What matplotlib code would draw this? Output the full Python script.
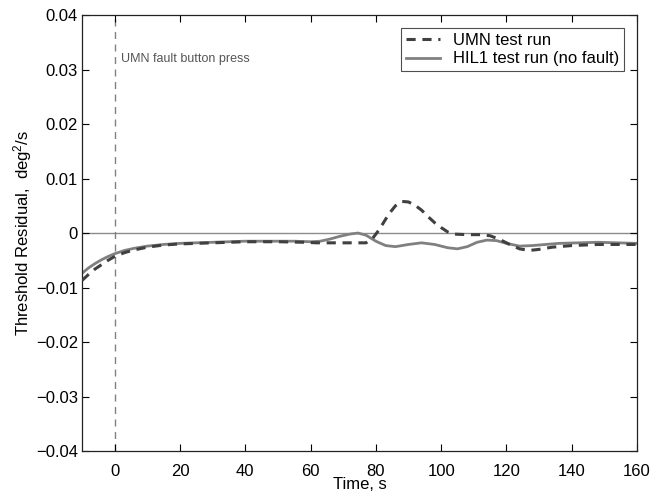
import numpy as np
import matplotlib
matplotlib.use("Agg")
import matplotlib.pyplot as plt
from matplotlib.ticker import FuncFormatter

plt.rcParams['font.family'] = ['Liberation Sans', 'DejaVu Sans']
plt.rcParams['mathtext.default'] = 'regular'

# HIL1 test run (no fault)
t_hil = [-10, -8, -6, -4, -2, 0, 3, 6, 10, 15, 20, 25, 30, 40, 50, 55, 60, 63,
         66, 69, 72, 74.5, 77, 80, 83, 86, 90, 94, 98, 102, 105, 108, 111, 114,
         117, 120, 124, 128, 132, 136, 142, 148, 154, 160]
r_hil = [-0.0074, -0.0064, -0.0056, -0.0049, -0.0043, -0.0038, -0.0032,
         -0.0028, -0.0024, -0.0021, -0.0019, -0.0018, -0.0017, -0.0015,
         -0.0015, -0.0015, -0.0016, -0.0015, -0.0011, -0.0006, -0.0002,
         0.0000, -0.0004, -0.0015, -0.0023, -0.0025, -0.0021, -0.0018,
         -0.0021, -0.0027, -0.0029, -0.0025, -0.0017, -0.0013, -0.0014,
         -0.0019, -0.0024, -0.0023, -0.0021, -0.0019, -0.0018, -0.0017,
         -0.0018, -0.0019]

# UMN test run
t_umn = [-10, -8, -6, -4, -2, 0, 3, 6, 10, 15, 20, 30, 40, 50, 58, 62, 70, 77,
         79, 81, 84, 86, 88, 90, 92, 94, 96, 98, 100, 102, 104, 108, 112, 115,
         118, 121, 124, 127, 130, 134, 140, 148, 160]
r_umn = [-0.0087, -0.0076, -0.0066, -0.0058, -0.0050, -0.0043, -0.0036,
         -0.0031, -0.0026, -0.0022, -0.0020, -0.0018, -0.0016, -0.0016,
         -0.0017, -0.0018, -0.0018, -0.0018, -0.0010, 0.0006, 0.0035, 0.0050,
         0.0058, 0.0057, 0.0051, 0.0042, 0.0030, 0.0019, 0.0010, 0.0002,
         -0.0002, -0.0003, -0.0003, -0.0005, -0.0012, -0.0021, -0.0029,
         -0.0032, -0.0030, -0.0026, -0.0023, -0.0021, -0.0021]

fault_time = 0
x_ticks = [0, 20, 40, 60, 80, 100, 120, 140, 160]
y_ticks = [-0.04, -0.03, -0.02, -0.01, 0, 0.01, 0.02, 0.03, 0.04]

fig = plt.figure(figsize=(6.69, 4.96), dpi=100)
ax = fig.add_axes([0.1226, 0.0907, 0.8296, 0.879])

ax.axhline(0, color='#8c8c8c', lw=1.0, zorder=1)
ax.axvline(fault_time, color='#808080', lw=1.0, dashes=(5, 4), zorder=1)
ax.text(fault_time + 1.8, 0.032, "UMN fault button press", fontsize=9,
        color='#555555', va='center')

ax.plot(t_umn, r_umn, color='#404040', lw=2.2, dashes=(3, 2.2),
        label="UMN test run", zorder=3)
ax.plot(t_hil, r_hil, color='#808080', lw=2.0, label="HIL1 test run (no fault)",
        zorder=2)

ax.set_xlim(-10, 160)
ax.set_ylim(-0.04, 0.04)
ax.set_xticks(x_ticks)
ax.set_yticks(y_ticks)
ax.yaxis.set_major_formatter(
    FuncFormatter(lambda v, p: ("%g" % round(v, 4)).replace('-', '\u2212')))
ax.tick_params(direction='in', top=True, right=True, length=5, width=0.8,
               labelsize=12)
ax.tick_params(axis='x', pad=9)
ax.tick_params(axis='y', pad=3)
for s in ax.spines.values():
    s.set_linewidth(0.9)
    s.set_color('#222222')

ax.set_xlabel("Time, s", fontsize=12, labelpad=-1)
ax.set_ylabel("Threshold Residual,  deg$^{2}$/s", fontsize=12, labelpad=1)

leg = ax.legend(loc='upper right', bbox_to_anchor=(0.977, 0.97), fontsize=12,
                frameon=True, fancybox=False, borderaxespad=0.0,
                handlelength=2.0, handletextpad=0.8, borderpad=0.3,
                labelspacing=0.2)
leg.get_frame().set_edgecolor('#222222')
leg.get_frame().set_linewidth(0.8)

fig.savefig("out.png", dpi=100)
